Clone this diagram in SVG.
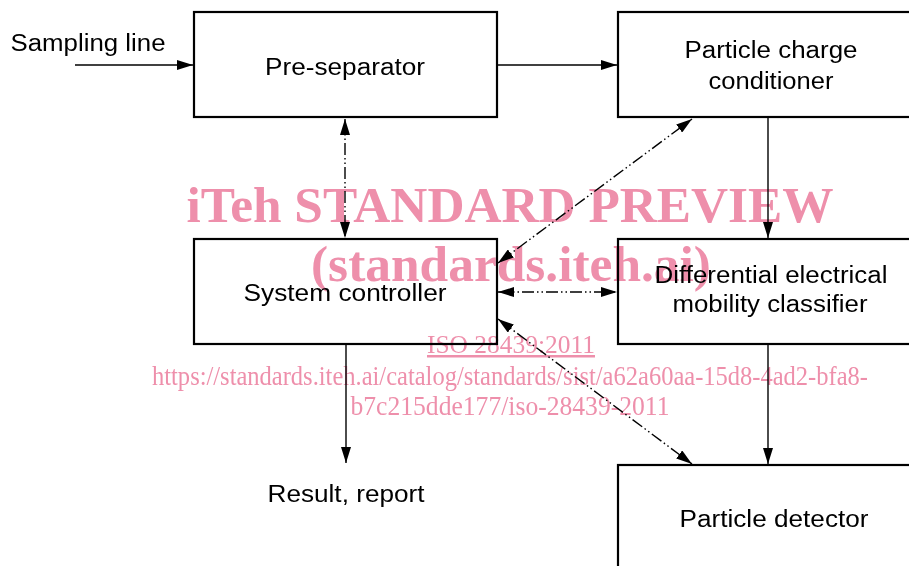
<svg xmlns="http://www.w3.org/2000/svg" width="909" height="566" viewBox="0 0 909 566">
<style>
  .box{fill:#fff;stroke:#000;stroke-width:2.2}
  .t{font-family:"Liberation Sans",Arial,sans-serif;font-size:23px;fill:#000;text-anchor:middle}
  .c{fill:none;stroke:#000;stroke-width:1.4}
  .dd{stroke-dasharray:12,3,1.5,3,1.5,3}
  .wm{font-family:"Liberation Serif","Times New Roman",serif;fill:#ee8fab;text-anchor:middle;mix-blend-mode:multiply}
</style>
<defs>
  <marker id="ah" viewBox="0 0 16 10" refX="16" refY="5" markerWidth="16" markerHeight="10" markerUnits="userSpaceOnUse" orient="auto-start-reverse">
    <path d="M0,0 L16,5 L0,10 Z" fill="#000"/>
  </marker>
</defs>
<g id="pre-separator"><rect class="box" x="194" y="12" width="303" height="105"/><text class="t" x="345" y="75" textLength="160" lengthAdjust="spacingAndGlyphs">Pre-separator</text></g>
<g id="particle-charge-conditioner"><rect class="box" x="618" y="12" width="310" height="105"/><text class="t" x="771" y="58" textLength="173" lengthAdjust="spacingAndGlyphs">Particle charge</text><text class="t" x="771" y="89" textLength="125" lengthAdjust="spacingAndGlyphs">conditioner</text></g>
<g id="system-controller"><rect class="box" x="194" y="239" width="303" height="105"/><text class="t" x="345" y="301" textLength="203" lengthAdjust="spacingAndGlyphs">System controller</text></g>
<g id="dem-classifier"><rect class="box" x="618" y="239" width="310" height="105"/><text class="t" x="771" y="283" textLength="233" lengthAdjust="spacingAndGlyphs">Differential electrical</text><text class="t" x="770" y="312" textLength="195" lengthAdjust="spacingAndGlyphs">mobility classifier</text></g>
<g id="particle-detector"><rect class="box" x="618" y="465" width="310" height="120"/><text class="t" x="774" y="527" textLength="189" lengthAdjust="spacingAndGlyphs">Particle detector</text></g>
<g id="sampling-line"><text class="t" x="88" y="51" textLength="155" lengthAdjust="spacingAndGlyphs">Sampling line</text></g>
<g id="result-report"><text class="t" x="346" y="502" textLength="157" lengthAdjust="spacingAndGlyphs">Result, report</text></g>
<g id="connectors">
  <line class="c" x1="75" y1="65" x2="193" y2="65" marker-end="url(#ah)"/>
  <line class="c" x1="498" y1="65" x2="617" y2="65" marker-end="url(#ah)"/>
  <line class="c" x1="768" y1="118" x2="768" y2="238" marker-end="url(#ah)"/>
  <line class="c dd" x1="345" y1="119" x2="345" y2="238" marker-start="url(#ah)" marker-end="url(#ah)"/>
  <line class="c dd" x1="498" y1="263" x2="692" y2="119" marker-start="url(#ah)" marker-end="url(#ah)"/>
  <line class="c dd" x1="498" y1="292" x2="617" y2="292" marker-start="url(#ah)" marker-end="url(#ah)"/>
  <line class="c dd" x1="498" y1="319" x2="692" y2="464" marker-start="url(#ah)" marker-end="url(#ah)"/>
  <line class="c" x1="346" y1="345" x2="346" y2="463" marker-end="url(#ah)"/>
  <line class="c" x1="768" y1="345" x2="768" y2="464" marker-end="url(#ah)"/>
</g>
<g id="watermark">
  <text class="wm" x="510" y="222" font-size="50" font-weight="bold" textLength="647" lengthAdjust="spacingAndGlyphs">iTeh STANDARD PREVIEW</text>
  <text class="wm" x="511" y="281" font-size="50" font-weight="bold" textLength="400" lengthAdjust="spacingAndGlyphs">(standards.iteh.ai)</text>
  <text class="wm" x="511" y="353" font-size="25" text-decoration="underline" textLength="168" lengthAdjust="spacingAndGlyphs">ISO 28439:2011</text>
  <text class="wm" x="510" y="385" font-size="27" textLength="716" lengthAdjust="spacingAndGlyphs">https://standards.iteh.ai/catalog/standards/sist/a62a60aa-15d8-4ad2-bfa8-</text>
  <text class="wm" x="510" y="415" font-size="27" textLength="319" lengthAdjust="spacingAndGlyphs">b7c215dde177/iso-28439-2011</text>
</g>
</svg>
